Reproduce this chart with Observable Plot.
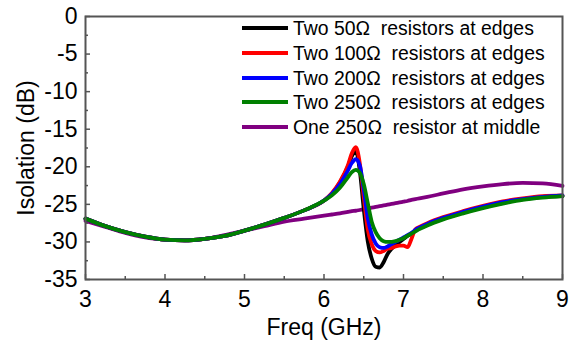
<!DOCTYPE html>
<html><head><meta charset="utf-8">
<script src="https://cdn.jsdelivr.net/npm/d3@7"></script>
<script src="https://cdn.jsdelivr.net/npm/@observablehq/plot@0.6"></script>
<style>
body{margin:0;background:#fff;}
#wrap{position:relative;width:581px;height:343px;font-family:"Liberation Sans",Arial,sans-serif;color:#000;}
.item{position:absolute;height:24px;line-height:24px;font-size:19.4px;white-space:pre;}
.sw{position:absolute;left:0;top:10px;width:46px;height:4px;}
.tx{position:absolute;left:51px;top:0;}
</style></head><body><div id="wrap"></div><script>
const freq = [3.0,3.25,3.5,3.75,4.0,4.25,4.5,4.75,5.0,5.25,5.5,5.75,6.0,
  6.1,6.2,6.3,6.35,6.4,6.45,6.5,6.55,6.6,6.65,6.7,6.75,6.8,6.85,6.9,6.95,7.0,7.05,7.1,7.15,7.2,
  7.3,7.5,7.75,8.0,8.25,8.5,8.75,9.0];
const r50 = [-26.9,-27.9,-28.7,-29.3,-29.7,-29.8,-29.6,-29.2,-28.5,-27.7,-26.8,-25.8,-24.5,
  -23.6,-22.1,-20.0,-18.6,-17.9,-20.5,-25.6,-29.9,-32.2,-33.3,-33.4,-32.7,-31.6,-30.9,-30.4,-30.0,-29.6,-29.2,-28.9,-28.5,-28.2,
  -27.7,-26.9,-26.1,-25.4,-24.8,-24.3,-24.0,-23.9];
const r100 = [-26.9,-27.9,-28.7,-29.3,-29.7,-29.8,-29.6,-29.2,-28.5,-27.7,-26.8,-25.8,-24.5,
  -23.5,-22.0,-19.8,-18.2,-17.4,-19.5,-24.0,-28.3,-30.3,-31.2,-31.4,-31.2,-30.9,-30.8,-30.6,-30.5,-30.5,-30.7,-29.6,-28.3,-28.0,
  -27.5,-26.7,-25.9,-25.2,-24.6,-24.2,-23.9,-23.8];
const r200 = [-26.9,-27.9,-28.7,-29.3,-29.7,-29.8,-29.6,-29.2,-28.5,-27.7,-26.8,-25.8,-24.5,
  -23.6,-22.3,-20.5,-19.5,-19.0,-19.8,-23.0,-26.8,-29.0,-30.2,-30.7,-30.8,-30.6,-30.3,-30.0,-29.7,-29.4,-29.1,-28.8,-28.4,-28.1,
  -27.6,-26.8,-26.0,-25.3,-24.7,-24.3,-24.0,-23.8];
const r250 = [-26.9,-27.9,-28.7,-29.3,-29.7,-29.8,-29.6,-29.2,-28.5,-27.7,-26.8,-25.8,-24.5,
  -23.8,-22.8,-21.4,-20.7,-20.4,-20.8,-22.3,-24.8,-27.3,-28.7,-29.5,-29.9,-30.0,-30.0,-29.9,-29.7,-29.5,-29.2,-28.9,-28.6,-28.3,
  -27.8,-27.0,-26.2,-25.5,-24.9,-24.4,-24.1,-23.9];
const mid250 = [-27.2,-28.0,-28.8,-29.4,-29.7,-29.8,-29.6,-29.1,-28.5,-27.9,-27.3,-26.9,-26.5,
  -26.35,-26.2,-26.0,-25.9,-25.85,-25.75,-25.65,-25.55,-25.45,-25.35,-25.25,-25.15,-25.05,-24.95,-24.85,-24.75,-24.65,-24.55,-24.4,-24.3,-24.2,
  -24.0,-23.55,-23.0,-22.6,-22.3,-22.15,-22.2,-22.55];
const seriesNames = ["Two 50Ω  resistors at edges","Two 100Ω  resistors at edges","Two 200Ω  resistors at edges","Two 250Ω  resistors at edges","One 250Ω  resistor at middle"];
const seriesColors = ["#000000","#ff0000","#0000ff","#008000","#800080"];
const seriesValues = [r50, r100, r200, r250, mid250];
const drawOrder = [4,0,1,2,3];
const xTicks = [3,4,5,6,7,8,9];
const xMinor = [3.5,4.5,5.5,6.5,7.5,8.5];
const yTicks = [0,-5,-10,-15,-20,-25,-30,-35];
const yMinor = [-2.5,-7.5,-12.5,-17.5,-22.5,-27.5,-32.5];
const xLabel = "Freq (GHz)";
const yLabel = "Isolation (dB)";

const W = 581, H = 343, mL = 85, mR = 19, mT = 16, mB = 64;
const pw = W - mL - mR, ph = H - mT - mB;
const font = '"Liberation Sans", Arial, sans-serif';

const lineMarks = drawOrder.map(k => Plot.line(freq, {
  x: d => d, y: (d, i) => seriesValues[k][i],
  stroke: seriesColors[k], strokeWidth: 3.8, curve: "monotone-x"
}));

const plot = Plot.plot({
  width: W, height: H, marginLeft: mL, marginRight: mR, marginTop: mT, marginBottom: mB,
  style: {fontFamily: font, background: "#fff", color: "#000"},
  x: {domain: [3, 9]},
  y: {domain: [-35, 0]},
  marks: [
    ...lineMarks,
    Plot.tickX(xTicks, {x: d => d, insetTop: ph - 5, stroke: "#555", strokeWidth: 1.5}),
    Plot.tickX(xMinor, {x: d => d, insetTop: ph - 3, stroke: "#555", strokeWidth: 1.5}),
    Plot.tickY(yTicks, {y: d => d, insetRight: pw - 5, stroke: "#555", strokeWidth: 1.5}),
    Plot.tickY(yMinor, {y: d => d, insetRight: pw - 3, stroke: "#555", strokeWidth: 1.5}),
    Plot.axisX(xTicks, {tickSize: 0, tickPadding: 11, fontSize: 23, label: null, tickFormat: d => String(d), fill: "#000"}),
    Plot.axisY(yTicks, {tickSize: 0, tickPadding: 8, fontSize: 23, label: null, tickFormat: d => String(d), fill: "#000"}),
    Plot.text([xLabel], {text: d => d, frameAnchor: "bottom", textAnchor: "middle", lineAnchor: "top", dy: 39, fontSize: 23, fill: "#000"}),
    Plot.text([yLabel], {text: d => d, frameAnchor: "left", textAnchor: "middle", lineAnchor: "middle", rotate: -90, dx: -59, fontSize: 23, fill: "#000"}),
    Plot.frame({stroke: "#555", strokeWidth: 2})
  ]
});
const wrap = document.getElementById("wrap");
wrap.appendChild(plot);

const legendTops = [28, 52.5, 77.5, 102, 126.5];
seriesNames.forEach((name, k) => {
  const it = document.createElement("div");
  it.className = "item";
  it.style.left = "242px";
  it.style.top = (legendTops[k] - 12) + "px";
  const sw = document.createElement("div");
  sw.className = "sw"; sw.style.background = seriesColors[k];
  const tx = document.createElement("div");
  tx.className = "tx"; tx.textContent = name;
  it.appendChild(sw); it.appendChild(tx);
  wrap.appendChild(it);
});
</script></body></html>
